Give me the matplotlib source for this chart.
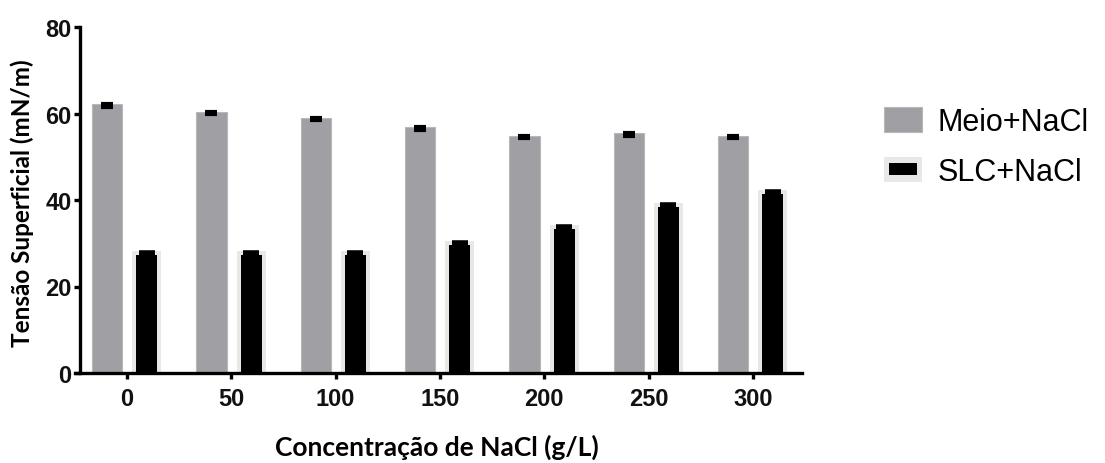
import matplotlib
matplotlib.use("Agg")
import matplotlib.pyplot as plt
from matplotlib.patches import Patch, Rectangle
from matplotlib.legend_handler import HandlerBase
import numpy as np

# NaCl concentration (g/L)
concentrations = ["0", "50", "100", "150", "200", "250", "300"]

# Surface tension (mN/m)
meio_nacl = [62.1, 60.4, 58.9, 56.8, 54.9, 55.4, 54.9]
meio_err = [0.5, 0.5, 0.5, 0.5, 0.5, 0.5, 0.5]
slc_nacl = [27.3, 27.3, 27.3, 29.5, 33.2, 38.4, 41.4]
slc_err = [0.5, 0.5, 0.5, 0.5, 0.5, 0.5, 0.5]

y_ticks = [0, 20, 40, 60, 80]

GRAY = "#a09fa4"
HALO = "#e8e8e8"


class HaloHandler(HandlerBase):
    """Legend key: black box framed by a light halo."""

    def create_artists(self, legend, orig_handle, xdescent, ydescent,
                       width, height, fontsize, trans):
        outer = Rectangle((-xdescent, -ydescent), width, height,
                          facecolor=HALO, edgecolor="none", transform=trans)
        ix, iy = width * 0.13, height * 0.26
        inner = Rectangle((-xdescent + ix, -ydescent + iy), width - 2 * ix,
                          height - 2 * iy, facecolor="black",
                          edgecolor="none", transform=trans)
        return [outer, inner]


fig = plt.figure(figsize=(11.05, 4.64), dpi=100)
ax = fig.add_axes([80 / 1105, 1 - 374 / 464, (802 - 80) / 1105, (374 - 28) / 464])

x = np.arange(len(concentrations))
off = 0.19

# Medium + NaCl
ax.bar(x - off, meio_nacl, width=0.29, color=GRAY, edgecolor="#b8b8bb",
       linewidth=0.8, zorder=2)
ax.errorbar(x - off, meio_nacl, yerr=[meio_err, np.zeros(len(x))], fmt="none",
            ecolor="black", elinewidth=3, capsize=4, capthick=3, zorder=3)

# SLC + NaCl (light halo behind the black bars)
halo_top = np.array(slc_nacl) + np.array(slc_err) + 0.45
ax.bar(x + off, halo_top, width=0.28, color=HALO, linewidth=0, zorder=1)
ax.bar(x + off, slc_nacl, width=0.20, color="black", linewidth=0, zorder=2)
ax.errorbar(x + off, slc_nacl, yerr=[np.zeros(len(x)), slc_err], fmt="none",
            ecolor="black", elinewidth=3, capsize=5.8, capthick=4, zorder=3)

ax.set_xlim(-0.45, 6.47)
ax.set_ylim(0, 80)
ax.set_yticks(y_ticks)
ax.set_xticks(x)
ax.set_xticklabels(concentrations)

for s in ["top", "right"]:
    ax.spines[s].set_visible(False)
for s in ["left", "bottom"]:
    ax.spines[s].set_linewidth(2.4)
    ax.spines[s].set_color("black")
ax.spines["bottom"].set_bounds(-0.495, 6.47)

ax.tick_params(axis="both", length=4, width=2.4, color="black")
ax.tick_params(axis="y", pad=2)
ax.tick_params(axis="x", pad=6)
for lab in ax.get_xticklabels() + ax.get_yticklabels():
    lab.set_fontfamily("Liberation Sans")
    lab.set_fontweight("bold")
    lab.set_fontsize(17)
    lab.set_color("#111111")

fig.text(22 / 1105, 1 - 203 / 464, "Tensão Superficial (mN/m)", rotation=90,
         ha="center", va="center", fontfamily="Lato", fontweight="bold",
         fontsize=17.5, color="black")
fig.text(437 / 1105, 1 - 447 / 464, "Concentração de NaCl (g/L)",
         ha="center", va="center", fontfamily="Lato", fontweight="bold",
         fontsize=19, color="black")

meio_key = Patch(facecolor=GRAY, edgecolor="#b8b8bb", linewidth=0.8)
slc_key = Patch(facecolor="black")
leg = fig.legend([meio_key, slc_key], ["Meio+NaCl", "SLC+NaCl"],
                 loc="upper left", bbox_to_anchor=(884 / 1105, 1 - 108 / 464),
                 frameon=False, handlelength=1.24, handleheight=0.88,
                 handletextpad=0.52, labelspacing=0.65, borderpad=0,
                 borderaxespad=0, handler_map={slc_key: HaloHandler()},
                 prop={"family": "Liberation Sans", "size": 22})

fig.savefig("out.png", dpi=100)
